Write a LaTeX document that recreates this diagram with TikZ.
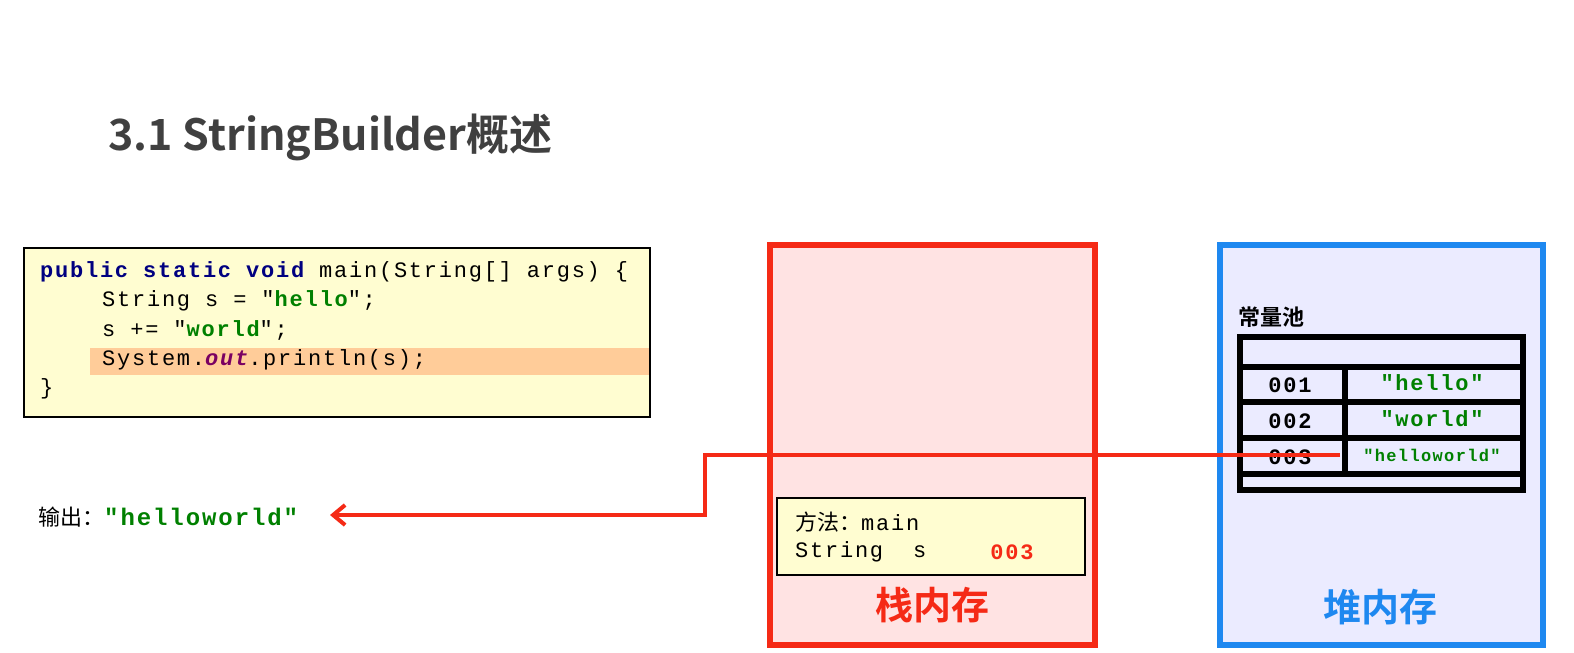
\documentclass[tikz,border=0pt]{standalone}
\usepackage{fontspec}
\setmainfont{Liberation Serif}
\setmonofont{Liberation Mono}[LetterSpace=8]
\newfontfamily\cjk{Noto Sans CJK SC}
\newfontfamily\cjkb{Noto Sans CJK SC Bold}
\definecolor{kw}{HTML}{000080}
\definecolor{str}{HTML}{008000}
\definecolor{oc}{HTML}{7A0062}
\definecolor{redc}{HTML}{F52A16}
\definecolor{bluec}{HTML}{1E88F0}
\usetikzlibrary{arrows.meta}
\begin{document}
\begin{tikzpicture}[x=1pt,y=-1pt,
  code/.style={anchor=west,inner sep=0pt,font=\ttfamily\fontsize{22}{24}\selectfont},
  cell/.style={inner sep=0pt,font=\ttfamily\bfseries\fontsize{22}{24}\selectfont},
  tbl/.style={line width=6pt,black}]
\useasboundingbox (0,0) rectangle (1574,653);
\node[anchor=west,inner sep=0pt,font=\cjkb\fontsize{43}{45}\selectfont,text=black!75] (title) at (108,137) {3.1 StringBuilder概述};
% code
\draw[fill=yellow!18,line width=2pt] (24,248) rectangle (650,417);
\fill[orange!40] (90,348) rectangle (649,375);
\node[code] (l1) at (40,272) {\textcolor{kw}{\bfseries public static void} main(String[] args) \{};
\node[code] (l2) at (102,301) {String s = "\textcolor{str}{\bfseries hello}";};
\node[code] (l3) at (102,330) {s += "\textcolor{str}{\bfseries world}";};
\node[code] (l4) at (102,360) {System.\textcolor{oc}{\bfseries\itshape out}.println(s);};
\node[code] (l5) at (40,389) {\}};
% output
\node[anchor=west,inner sep=0pt,font=\cjk\fontsize{22}{24}\selectfont] (out) at (38,517) {输出：\textcolor{str}{\ttfamily\bfseries\fontsize{24}{26}\selectfont "helloworld"}};
% stack
\draw[redc,line width=6pt,fill=red!11] (770,245) rectangle (1095,645);
\draw[fill=yellow!18,line width=2pt] (777,498) rectangle (1085,575);
\node[code] (m1) at (795,522) {{\cjk 方法：}main};
\node[code] (m2) at (795,552) {String\ \ s};
\node[cell,text=redc] (m3) at (1012,552) {003};
\node[font=\cjkb\fontsize{38}{40}\selectfont,text=redc] (stk) at (932,605) {栈内存};
% heap
\draw[bluec,line width=6pt,fill=blue!8] (1220,245) rectangle (1543,645);
\node[anchor=west,inner sep=0pt,font=\cjkb\fontsize{22}{24}\selectfont] (pool) at (1238,317) {常量池};
\draw[tbl] (1240,337) rectangle (1523,490);
\foreach \yy in {367,402,438,474} \draw[tbl] (1240,\yy) -- (1523,\yy);
\draw[tbl] (1345,367) -- (1345,474);
\node[cell] (a1) at (1290,385) {001};
\node[cell] (a2) at (1290,421) {002};
\node[cell] (a3) at (1290,457) {003};
\node[cell,text=str] (v1) at (1432,383) {"hello"};
\node[cell,text=str] (v2) at (1432,419) {"world"};
\node[cell,text=str,font=\ttfamily\bfseries\fontsize{17}{19}\selectfont] (v3) at (1432,455) {"helloworld"};
\node[font=\cjkb\fontsize{38}{40}\selectfont,text=bluec] (hp) at (1380,607) {堆内存};
% arrow
\coordinate (s) at (1340,455);
\coordinate (tgt) at (330,515);
\draw[redc,line width=4pt,-{Straight Barb[length=12pt,width=20pt]}] (s) -- (705,455) -- (705,515) -- (tgt);
\end{tikzpicture}
\end{document}
